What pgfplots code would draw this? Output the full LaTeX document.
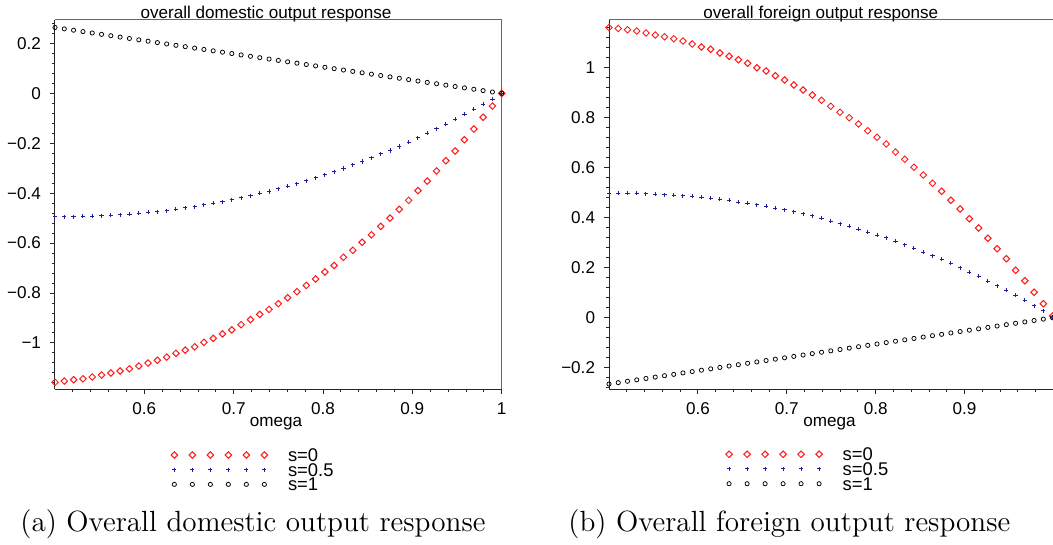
\documentclass[border=0pt]{standalone}
\usepackage{fontspec}
\usepackage{pgfplots}
\usepackage{pgfplotstable}
\pgfplotsset{compat=1.18}
\newfontfamily\maple{Liberation Sans}
\definecolor{mred}{rgb}{1,0.1,0.1}
\definecolor{mblue}{rgb}{0.12,0.12,0.6}
\newcommand\mfont{\maple\fontsize{8.55}{10}\selectfont}
\newcommand\lfont{\maple\fontsize{9.2}{10}\selectfont}

\pgfplotstableread{
x s0 s05 s1
0.5000 -1.158 -0.494 0.264
0.5104 -1.153 -0.494 0.2585
0.5208 -1.148 -0.494 0.253
0.5313 -1.144 -0.493 0.2475
0.5417 -1.137 -0.492 0.242
0.5521 -1.129 -0.490 0.2365
0.5625 -1.121 -0.489 0.231
0.5729 -1.113 -0.486 0.2255
0.5833 -1.104 -0.484 0.220
0.5938 -1.093 -0.481 0.2145
0.6042 -1.081 -0.477 0.209
0.6146 -1.070 -0.475 0.2035
0.6250 -1.057 -0.470 0.198
0.6354 -1.042 -0.465 0.1925
0.6458 -1.029 -0.459 0.187
0.6563 -1.016 -0.455 0.1815
0.6667 -0.998 -0.446 0.176
0.6771 -0.982 -0.441 0.1705
0.6875 -0.964 -0.434 0.165
0.6979 -0.948 -0.426 0.1595
0.7083 -0.927 -0.418 0.154
0.7188 -0.907 -0.410 0.1485
0.7292 -0.886 -0.401 0.143
0.7396 -0.866 -0.393 0.1375
0.7500 -0.843 -0.382 0.132
0.7604 -0.819 -0.372 0.1265
0.7708 -0.795 -0.362 0.121
0.7813 -0.770 -0.350 0.1155
0.7917 -0.744 -0.338 0.110
0.8021 -0.716 -0.326 0.1045
0.8125 -0.690 -0.314 0.099
0.8229 -0.657 -0.301 0.0935
0.8333 -0.629 -0.287 0.088
0.8438 -0.597 -0.273 0.0825
0.8542 -0.567 -0.259 0.077
0.8646 -0.533 -0.243 0.0715
0.8750 -0.500 -0.229 0.066
0.8854 -0.465 -0.213 0.0605
0.8958 -0.429 -0.196 0.055
0.9063 -0.390 -0.178 0.0495
0.9167 -0.352 -0.160 0.044
0.9271 -0.311 -0.142 0.0385
0.9375 -0.270 -0.123 0.033
0.9479 -0.231 -0.104 0.0275
0.9583 -0.186 -0.084 0.022
0.9688 -0.143 -0.064 0.0165
0.9792 -0.096 -0.044 0.011
0.9896 -0.051 -0.023 0.0055
1.0000 0.000 0.000 0.000
}\domtable

\pgfplotstableread{
x s0 s05 s1
0.5000 1.161 0.498 -0.265
0.5104 1.157 0.499 -0.2595
0.5208 1.152 0.499 -0.254
0.5312 1.147 0.498 -0.2484
0.5416 1.139 0.496 -0.2429
0.5520 1.131 0.495 -0.2374
0.5624 1.124 0.492 -0.2319
0.5728 1.116 0.491 -0.2264
0.5832 1.107 0.488 -0.2208
0.5936 1.095 0.486 -0.2153
0.6040 1.083 0.482 -0.2098
0.6144 1.074 0.479 -0.2043
0.6247 1.059 0.474 -0.1988
0.6351 1.046 0.470 -0.1932
0.6455 1.032 0.463 -0.1877
0.6559 1.018 0.459 -0.1822
0.6663 1.000 0.452 -0.1767
0.6767 0.987 0.447 -0.1711
0.6871 0.968 0.439 -0.1656
0.6975 0.951 0.432 -0.1601
0.7079 0.931 0.424 -0.1546
0.7183 0.911 0.416 -0.1491
0.7287 0.891 0.408 -0.1435
0.7391 0.870 0.399 -0.1380
0.7495 0.846 0.387 -0.1325
0.7599 0.822 0.376 -0.1270
0.7703 0.800 0.366 -0.1215
0.7807 0.775 0.355 -0.1159
0.7911 0.748 0.343 -0.1104
0.8015 0.722 0.331 -0.1049
0.8119 0.695 0.320 -0.0994
0.8223 0.663 0.306 -0.0938
0.8327 0.634 0.292 -0.0883
0.8431 0.602 0.278 -0.0828
0.8535 0.571 0.263 -0.0773
0.8639 0.538 0.248 -0.0718
0.8742 0.506 0.234 -0.0663
0.8846 0.470 0.218 -0.0607
0.8950 0.435 0.200 -0.0552
0.9054 0.396 0.183 -0.0497
0.9158 0.359 0.166 -0.0442
0.9262 0.318 0.147 -0.0386
0.9366 0.276 0.128 -0.0331
0.9470 0.236 0.111 -0.0276
0.9574 0.190 0.090 -0.0221
0.9678 0.148 0.070 -0.0166
0.9782 0.102 0.048 -0.0110
0.9886 0.056 0.028 -0.0055
0.9990 0.007 0.003 0.000
}\fortable

\pgfplotsset{
  maplestyle/.style={
    scale only axis, clip=false,
    axis x line*=bottom, axis y line*=left,
    axis line style={black!85, line width=0.5pt},
    tick align=outside,
    major tick length=2.5pt, minor tick length=1.4pt,
    every tick/.append style={black!85, line width=0.4pt},
    tick label style={font=\mfont, inner sep=0pt},
    xticklabel style={anchor=base, yshift=-10.25pt},
    yticklabel style={anchor=east, xshift=-4.3pt},
    legend image code/.code={%
      \foreach \k in {0,9,18,27,36,45}{\draw[##1] plot coordinates {(\k pt,0pt)};}},
    legend style={draw=none, fill=none, inner sep=0pt, outer sep=0pt,
      row sep=0pt, column sep=10.2pt, anchor=north west, font=\lfont,
      nodes={inner sep=0pt, text height=6.975pt, text depth=0.375pt}},
    legend cell align=left,
  },
  rdiam/.style={only marks, mark=square, color=mred, mark size=1.15pt,
    mark options={rotate=45, line width=0.5pt}},
  bplus/.style={only marks, mark=+, color=mblue, mark size=1.05pt,
    mark options={line width=0.5pt}},
  kcirc/.style={only marks, mark=o, color=black, mark size=1.05pt,
    mark options={line width=0.38pt}},
}

\begin{document}
\begin{tikzpicture}
\useasboundingbox (0,0) rectangle (526.5pt,-272.5pt);

\begin{axis}[maplestyle,
  at={(27.5pt,-194.5pt)}, anchor=south west,
  width=223.35pt, height=184.5pt,
  xmin=0.5, xmax=1.0, ymin=-1.185, ymax=0.294,
  xtick={0.6,0.7,0.8,0.9,1}, xticklabels={0.6,0.7,0.8,0.9,1},
  minor xtick={0.52,0.54,0.56,0.58,0.62,0.64,0.66,0.68,0.72,0.74,0.76,0.78,0.82,0.84,0.86,0.88,0.92,0.94,0.96,0.98},
  ytick={-1,-0.8,-0.6,-0.4,-0.2,0,0.2},
  yticklabels={−1,−0.8,−0.6,−0.4,−0.2,0,0.2},
  minor ytick={-1.16,-1.12,-1.08,-1.04,-0.96,-0.92,-0.88,-0.84,-0.76,-0.72,-0.68,-0.64,-0.56,-0.52,-0.48,-0.44,-0.36,-0.32,-0.28,-0.24,-0.16,-0.12,-0.08,-0.04,0.04,0.08,0.12,0.16,0.24,0.28},
  legend style={at={(0.2599,-0.1589)}},
]
\addplot[rdiam] table[x=x,y=s0] {\domtable};
\addlegendentry{s=0}
\addplot[bplus] table[x=x,y=s05] {\domtable};
\addlegendentry{s=0.5}
\addplot[kcirc] table[x=x,y=s1] {\domtable};
\addlegendentry{s=1}
\draw[black!60, line width=0.5pt] (rel axis cs:0,1) -- (rel axis cs:1,1) -- (rel axis cs:1,0);
\end{axis}

\begin{axis}[maplestyle,
  at={(304.5pt,-194.5pt)}, anchor=south west,
  width=223.1pt, height=184.5pt,
  xmin=0.5, xmax=1.002, ymin=-0.285, ymax=1.191,
  xtick={0.6,0.7,0.8,0.9}, xticklabels={0.6,0.7,0.8,0.9},
  minor xtick={0.52,0.54,0.56,0.58,0.62,0.64,0.66,0.68,0.72,0.74,0.76,0.78,0.82,0.84,0.86,0.88,0.92,0.94,0.96,0.98},
  ytick={-0.2,0,0.2,0.4,0.6,0.8,1},
  yticklabels={−0.2,0,0.2,0.4,0.6,0.8,1},
  minor ytick={-0.28,-0.24,-0.16,-0.12,-0.08,-0.04,0.04,0.08,0.12,0.16,0.24,0.28,0.32,0.36,0.44,0.48,0.52,0.56,0.64,0.68,0.72,0.76,0.84,0.88,0.92,0.96,1.04,1.08,1.12,1.16},
  legend style={at={(0.2618,-0.157)}},
]
\addplot[rdiam] table[x=x,y=s0] {\fortable};
\addlegendentry{s=0}
\addplot[bplus] table[x=x,y=s05] {\fortable};
\addlegendentry{s=0.5}
\addplot[kcirc] table[x=x,y=s1] {\fortable};
\addlegendentry{s=1}
\draw[black!60, line width=0.5pt] (rel axis cs:0,1) -- (rel axis cs:1,1);
\end{axis}

\node[anchor=base, font=\mfont, inner sep=0pt] at (133pt,-9.25pt) {overall domestic output response};
\node[anchor=base, font=\mfont, inner sep=0pt] at (410.4pt,-9.25pt) {overall foreign output response};
\node[anchor=base, font=\mfont, inner sep=0pt] at (138pt,-213pt) {omega};
\node[anchor=base, font=\mfont, inner sep=0pt] at (414.75pt,-213pt) {omega};
\node[anchor=base west, font=\fontsize{14.6}{17}\selectfont, inner sep=0pt] at (10pt,-265.5pt) {(a) Overall domestic output response};
\node[anchor=base west, font=\fontsize{14.6}{17}\selectfont, inner sep=0pt] at (284pt,-265.5pt) {(b) Overall foreign output response};
\end{tikzpicture}
\end{document}
